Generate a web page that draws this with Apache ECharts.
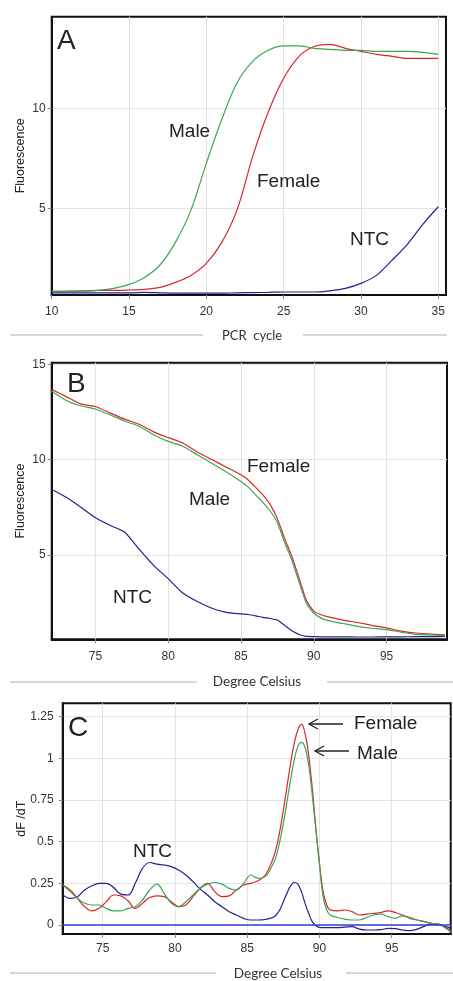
<!DOCTYPE html>
<html>
<head>
<meta charset="utf-8">
<script src="https://cdn.jsdelivr.net/npm/echarts@6/dist/echarts.min.js"></script>
<style>
html,body{margin:0;padding:0;background:#fff;}
#chart{width:453px;height:981px;}
</style>
</head>
<body>
<div id="chart"></div>
<script>
// ---------- Panel A: amplification ----------
const cycles = [10,11,12,13,14,15,16,17,18,19,20,21,22,23,24,25,26,27,28,29,30,31,32,33,34,35];
const ampMale   = [0.85,0.85,0.86,0.9,1.0,1.2,1.55,2.17,3.3,4.9,7.25,9.45,11.3,12.35,12.9,13.12,13.12,13.0,12.95,12.9,12.9,12.85,12.85,12.85,12.8,12.7];
const ampFemale = [0.85,0.86,0.88,0.9,0.9,0.92,0.95,1.05,1.3,1.65,2.25,3.3,4.95,7.6,9.8,11.5,12.6,13.1,13.2,13.0,12.85,12.7,12.6,12.5,12.5,12.5];
const ampNTC    = [0.78,0.78,0.78,0.78,0.78,0.78,0.8,0.78,0.76,0.76,0.76,0.76,0.78,0.79,0.8,0.82,0.82,0.82,0.88,1.0,1.25,1.65,2.4,3.2,4.2,5.08];
const ampXTicks = [10,15,20,25,30,35];
const ampYTicks = [5,10];

// ---------- Panel B: melt curve ----------
const tempsB = [72,73,74,75,76,77,78,79,80,81,82,83,84,85,85.5,86,86.5,87,87.5,88,88.5,89,89.5,90,90.5,91,92,93,94,95,96,97,98,99];
const meltFemale = [13.68,13.3,12.92,12.78,12.45,12.12,11.85,11.45,11.15,10.87,10.4,10.0,9.6,9.2,8.93,8.55,8.15,7.65,6.9,5.85,4.9,3.75,2.6,2.05,1.86,1.75,1.58,1.45,1.3,1.17,1.0,0.9,0.84,0.81];
const meltMale   = [13.58,13.1,12.82,12.65,12.35,12.02,11.75,11.3,10.95,10.7,10.25,9.8,9.35,8.85,8.55,8.15,7.75,7.3,6.7,5.65,4.7,3.55,2.45,1.95,1.68,1.55,1.4,1.25,1.15,1.08,0.95,0.83,0.8,0.77];
const meltNTC    = [8.43,8.02,7.5,6.95,6.55,6.2,5.3,4.45,3.75,3.0,2.55,2.2,1.98,1.9,1.87,1.8,1.72,1.66,1.58,1.3,1.02,0.82,0.72,0.71,0.7,0.7,0.7,0.69,0.69,0.7,0.7,0.71,0.71,0.72];
const tempXTicks = [75,80,85,90,95];
const meltYTicks = [5,10,15];

// ---------- Panel C: derivative ----------
const tempsC = [72.25,72.75,73.25,73.75,74.25,74.75,75.25,75.75,76.25,76.75,77.25,77.75,78.25,78.75,79.25,79.75,80.25,80.75,81.25,81.75,82.25,82.75,83.25,83.75,84.25,84.75,85.25,85.75,86.25,86.75,87.0,87.25,87.5,87.75,88.0,88.25,88.5,88.75,89.0,89.25,89.5,89.75,90.0,90.25,90.5,90.75,91.25,91.75,92.25,92.75,93.25,93.75,94.25,94.75,95.25,95.75,96.25,96.75,97.25,97.75,98.25,98.75,99.1];
const derivFemale = [0.24,0.21,0.16,0.11,0.085,0.10,0.14,0.18,0.175,0.145,0.10,0.13,0.165,0.175,0.17,0.14,0.11,0.12,0.17,0.22,0.25,0.20,0.17,0.175,0.21,0.24,0.25,0.265,0.30,0.39,0.46,0.56,0.69,0.83,0.97,1.09,1.17,1.205,1.15,1.02,0.82,0.58,0.37,0.2,0.12,0.09,0.085,0.09,0.08,0.06,0.065,0.07,0.075,0.085,0.075,0.06,0.04,0.03,0.02,0.01,0.005,-0.015,-0.035];
const derivMale   = [0.24,0.20,0.16,0.13,0.12,0.12,0.10,0.085,0.085,0.10,0.11,0.15,0.21,0.245,0.19,0.13,0.11,0.14,0.18,0.22,0.245,0.255,0.245,0.22,0.21,0.25,0.30,0.28,0.29,0.36,0.41,0.50,0.61,0.74,0.87,0.99,1.07,1.095,1.065,0.96,0.78,0.57,0.36,0.17,0.09,0.06,0.045,0.035,0.03,0.03,0.045,0.06,0.065,0.05,0.04,0.055,0.045,0.03,0.02,0.01,0.005,-0.02,-0.045];
const derivNTC    = [0.18,0.16,0.17,0.21,0.235,0.25,0.25,0.225,0.185,0.18,0.25,0.34,0.375,0.365,0.36,0.35,0.33,0.30,0.26,0.215,0.18,0.14,0.11,0.08,0.06,0.04,0.03,0.03,0.033,0.045,0.06,0.09,0.14,0.19,0.235,0.255,0.245,0.2,0.13,0.07,0.02,-0.005,-0.014,-0.016,-0.016,-0.016,-0.016,-0.013,-0.01,-0.025,-0.03,-0.03,-0.028,-0.02,-0.022,-0.03,-0.034,-0.025,-0.008,0.005,0.002,-0.01,-0.02];
const derivYTicks = [0,0.25,0.5,0.75,1,1.25];
const derivBaseline = 0;

const GREEN = '#3aa655', RED = '#d9262b', BLUE = '#22228f';
const FONT = '"Liberation Sans", Arial, sans-serif';
const TFONT = 'Lato, "Open Sans", sans-serif';

function pairs(xs, ys){ return xs.map((x,i)=>[x, ys[i]]); }

function xAxisCfg(grid, min, max, ticks, margin){
  return {
    type:'value', gridIndex:grid, min:min, max:max,
    axisLine:{show:true, onZero:false, lineStyle:{color:'#111', width:2}},
    axisTick:{show:true, length:4, lineStyle:{color:'#888'}, customValues:ticks},
    axisLabel:{customValues:ticks, color:'#333', fontFamily:FONT, fontSize:12, margin:margin},
    splitLine:{show:true, lineStyle:{color:'#e4e4e4', width:1}}
  };
}
function yAxisCfg(grid, min, max, ticks, name, gap, margin){
  return {
    type:'value', gridIndex:grid, min:min, max:max,
    name:name, nameLocation:'middle', nameGap:gap, nameRotate:90, nameMoveOverlap:false,
    nameTextStyle:{color:'#222', fontFamily:FONT, fontSize:12.5},
    axisLine:{show:true, onZero:false, lineStyle:{color:'#111', width:2}},
    axisTick:{show:true, length:4, lineStyle:{color:'#888'}, customValues:ticks},
    axisLabel:{customValues:ticks, color:'#333', fontFamily:FONT, fontSize:12, margin:margin},
    splitLine:{show:true, lineStyle:{color:'#e4e4e4', width:1}}
  };
}
function line(xi, yi, data, color, smooth){
  return {type:'line', xAxisIndex:xi, yAxisIndex:yi, data:data, showSymbol:false, symbol:'none',
    smooth:smooth, lineStyle:{color:color, width:1.2}, itemStyle:{color:color}, z:3, silent:true};
}
function hline(x1, x2, y){
  return {type:'line', z:10, shape:{x1:x1, y1:y, x2:x2, y2:y}, style:{stroke:'#b0b0b0', lineWidth:1}};
}
function arrow(x1, x2, y){
  return [
    {type:'line', z:10, shape:{x1:x1, y1:y, x2:x2, y2:y}, style:{stroke:'#222', lineWidth:1.3}},
    {type:'polyline', z:10, shape:{points:[[x1+9,y-5],[x1,y],[x1+9,y+5]]}, style:{stroke:'#222', lineWidth:1.3, fill:null}}
  ];
}
function label(x, y, s, size){
  return {type:'text', x:x, y:y, z:10, style:{text:s, fontSize:size||19, fontFamily:FONT, fill:'#222', textVerticalAlign:'middle'}};
}

const chart = echarts.init(document.getElementById('chart'), null, {renderer:'canvas'});
const graphics = [
  // panel letters
  label(57, 41, 'A', 28), label(67, 384, 'B', 28), label(68, 728, 'C', 28),
  // curve labels
  label(169, 132, 'Male'), label(257, 182, 'Female'), label(350, 240, 'NTC'),
  label(247, 467, 'Female'), label(189, 500, 'Male'), label(113, 598, 'NTC'),
  label(354, 724, 'Female'), label(357, 754, 'Male'), label(133, 852, 'NTC'),
  ...arrow(309, 343, 724),
  ...arrow(315, 349, 751),
  // axis titles with rules
  hline(10, 203, 335), hline(303, 447, 335),
  {type:'text', x:252, y:336, z:10, style:{text:'PCR  cycle', fontSize:13, fontFamily:TFONT, fill:'#333', textAlign:'center', textVerticalAlign:'middle'}},
  hline(10, 197, 682), hline(327, 453, 682),
  {type:'text', x:257, y:682, z:10, style:{text:'Degree Celsius', fontSize:13.5, fontFamily:TFONT, fill:'#333', textAlign:'center', textVerticalAlign:'middle'}},
  hline(10, 216, 973), hline(346, 453, 973),
  {type:'text', x:278, y:974, z:10, style:{text:'Degree Celsius', fontSize:13.5, fontFamily:TFONT, fill:'#333', textAlign:'center', textVerticalAlign:'middle'}}
];

const option = {
  animation:false,
  backgroundColor:'#fff',
  grid:[
    {left:51.7, top:16.7, width:394.3, height:278.3, show:true, borderColor:'#111', borderWidth:2, backgroundColor:'#fff'},
    {left:51.7, top:362.7, width:395.3, height:276.6, show:true, borderColor:'#111', borderWidth:2, backgroundColor:'#fff'},
    {left:62.7, top:703.3, width:388, height:230.7, show:true, borderColor:'#111', borderWidth:2, backgroundColor:'#fff'}
  ],
  xAxis:[
    xAxisCfg(0, 10, 35.5, ampXTicks, 11),
    xAxisCfg(1, 72, 99.15, tempXTicks, 11),
    xAxisCfg(2, 72.23, 99.08, tempXTicks, 9)
  ],
  yAxis:[
    yAxisCfg(0, 0.67, 14.58, ampYTicks, 'Fluorescence', 25, 6),
    yAxisCfg(1, 0.57, 15.08, meltYTicks, 'Fluorescence', 25, 6),
    yAxisCfg(2, -0.054, 1.33, derivYTicks, 'dF /dT', 35, 9)
  ],
  series:[
    line(0,0,pairs(cycles, ampNTC), BLUE, 0.3),
    line(0,0,pairs(cycles, ampFemale), RED, 0.3),
    line(0,0,pairs(cycles, ampMale), GREEN, 0.3),
    line(1,1,pairs(tempsB, meltNTC), BLUE, 0.2),
    line(1,1,pairs(tempsB, meltFemale), RED, 0.2),
    line(1,1,pairs(tempsB, meltMale), GREEN, 0.2),
    Object.assign(line(2,2,pairs(tempsC, derivNTC), BLUE, 0.4), {
      markLine:{silent:true, symbol:'none', label:{show:false},
        lineStyle:{color:'#3a3ad8', width:1.5, type:'solid'},
        data:[{yAxis:derivBaseline}]}
    }),
    line(2,2,pairs(tempsC, derivFemale), RED, 0.4),
    line(2,2,pairs(tempsC, derivMale), GREEN, 0.4)
  ],
  graphic:graphics
};
chart.setOption(option);
</script>
</body>
</html>
